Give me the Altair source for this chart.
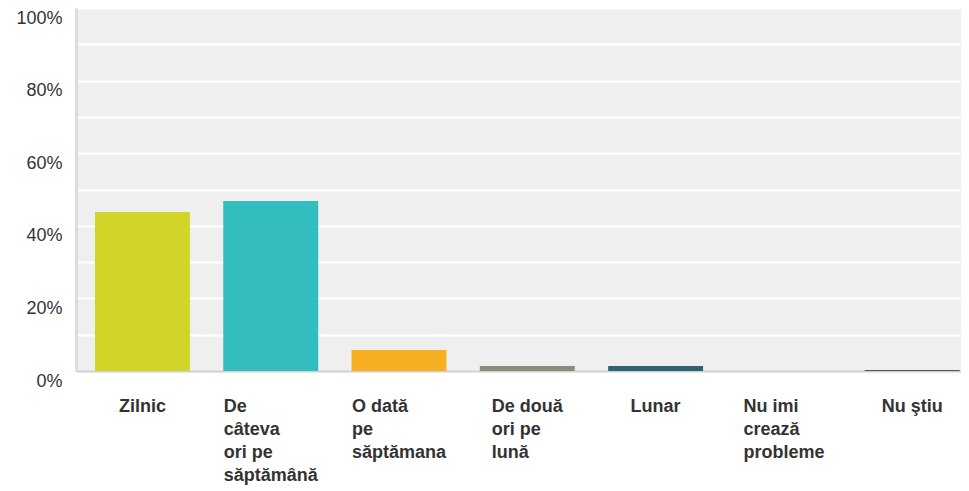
import altair as alt
import pandas as pd

categories = [
    "Zilnic",
    "De câteva ori pe săptămână",
    "O dată pe săptămana",
    "De două ori pe lună",
    "Lunar",
    "Nu imi crează probleme",
    "Nu ştiu",
]
label_lines = [
    "Zilnic",
    "De|câteva|ori pe|săptămână",
    "O dată|pe|săptămana",
    "De două|ori pe|lună",
    "Lunar",
    "Nu imi|crează|probleme",
    "Nu ştiu",
]
values = [43.8, 46.8, 5.8, 1.4, 1.4, 0.0, 0.3]
colors = ["#d0d528", "#33bdbf", "#f6ae22", "#8b8b79", "#2f6370", "#7e9a3a", "#545948"]
y_ticks = [0, 10, 20, 30, 40, 50, 60, 70, 80, 90, 100]

# Approximate Arial/Liberation Sans Bold advance widths (per 1000 em) to
# centre each wrapped label block while keeping its lines left-aligned.
BOLD_W = {
    " ": 278, "a": 556, "â": 556, "ă": 556, "b": 611, "c": 556, "d": 611,
    "e": 556, "i": 278, "l": 278, "m": 889, "n": 611, "o": 611, "p": 611,
    "r": 389, "s": 556, "ş": 556, "t": 333, "u": 611, "v": 556, "z": 500,
    "D": 722, "L": 611, "N": 722, "O": 778, "Z": 611,
}
FONT_SIZE = 18


def block_width(label):
    return max(sum(BOLD_W.get(ch, 556) for ch in line) for line in label.split("|")) * FONT_SIZE / 1000


offset_conditions = [
    {"test": f"datum.value === {lab!r}", "value": -round(block_width(lab) / 2, 1)}
    for lab in label_lines
]

df = pd.DataFrame({"category": categories, "label": label_lines, "value": values})

chart = (
    alt.Chart(df)
    .mark_bar()
    .encode(
        x=alt.X(
            "label:N",
            sort=label_lines,
            title=None,
            scale=alt.Scale(paddingInner=0.26, paddingOuter=0.079, align=0.935),
            axis=alt.Axis(
                labelExpr="split(datum.label, '|')",
                labelAngle=0,
                labelAlign="left",
                labelOffset={"condition": offset_conditions, "value": 0},
                labelBaseline="top",
                labelFont="Liberation Sans",
                labelFontSize=FONT_SIZE,
                labelFontWeight="bold",
                labelColor="#333333",
                labelLineHeight=23.3,
                labelPadding=26,
                labelLimit=0,
                labelOverlap=False,
                ticks=False,
                tickSize=0,
                domainColor="#d0d0d0",
                domainWidth=2,
                grid=False,
            ),
        ),
        y=alt.Y(
            "value:Q",
            title=None,
            scale=alt.Scale(domain=[0, 100], nice=False),
            axis=alt.Axis(
                values=y_ticks,
                labelExpr="datum.value % 20 == 0 ? datum.value + '%' : ''",
                labelFont="Liberation Sans",
                labelFontSize=18,
                labelColor="#333333",
                labelBaseline="middle",
                labelOffset=10,
                labelPadding=14,
                ticks=False,
                tickSize=0,
                domainColor="#dcdcdc",
                domainWidth=3,
                grid=True,
                gridColor="#ffffff",
                gridWidth=2,
                gridOpacity=1,
            ),
        ),
        color=alt.Color(
            "label:N",
            sort=label_lines,
            scale=alt.Scale(domain=label_lines, range=colors),
            legend=None,
        ),
    )
    .properties(
        width=885,
        height=363,
        autosize=alt.AutoSizeParams(type="none"),
        padding={"left": 68, "top": 0, "right": 0, "bottom": 122},
        background="#ffffff",
    )
    .configure_view(fill="#efefef", stroke=None)
)

chart.save("out.html", embed_options={"renderer": "svg", "actions": False})
